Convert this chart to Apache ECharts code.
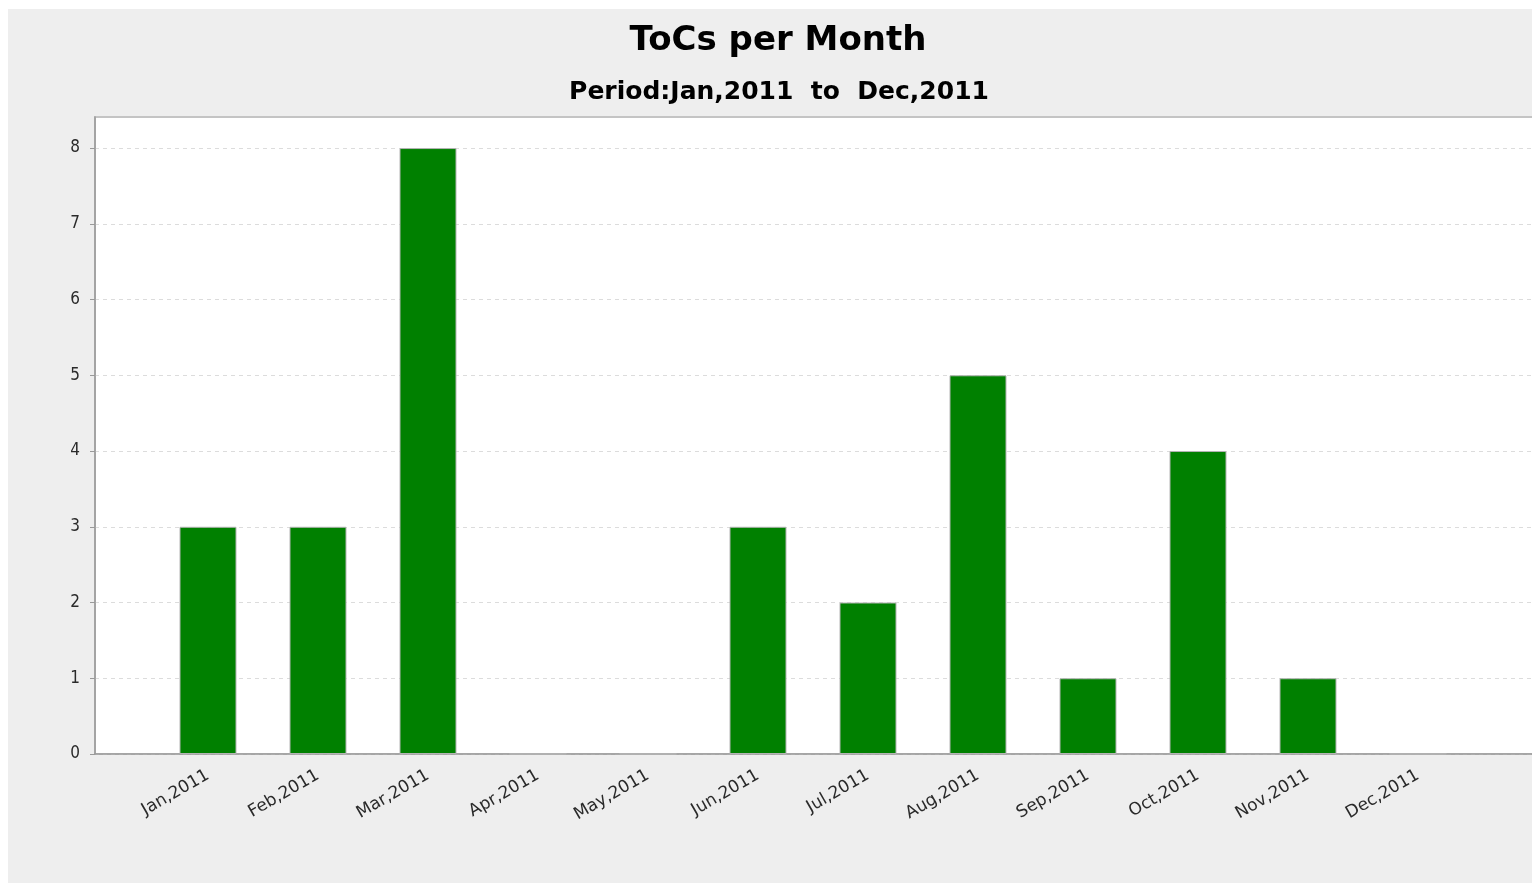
<!DOCTYPE html>
<html>
<head>
<meta charset="utf-8">
<script src="https://cdn.jsdelivr.net/npm/echarts@6/dist/echarts.min.js"></script>
<style>
  html, body { margin: 0; padding: 0; background: #ffffff; width: 1532px; height: 884px; overflow: hidden; }
  #chart { position: absolute; left: 8px; top: 9px; width: 1524px; height: 874px; }
</style>
</head>
<body>
<div id="chart"></div>
<script>
const titleText = 'ToCs per Month';
const subtitleText = 'Period:Jan,2011  to  Dec,2011';
const categories = ['Jan,2011', 'Feb,2011', 'Mar,2011', 'Apr,2011', 'May,2011', 'Jun,2011',
                    'Jul,2011', 'Aug,2011', 'Sep,2011', 'Oct,2011', 'Nov,2011', 'Dec,2011'];
const tocs = [3, 3, 8, 0, 0, 3, 2, 5, 1, 4, 1, 0];
const yTicks = [0, 1, 2, 3, 4, 5, 6, 7, 8];
const yMax = 8.41;

const condFont = '"DejaVu Sans Condensed", "DejaVu Sans", sans-serif';
const sansFont = '"DejaVu Sans", sans-serif';
const chart = echarts.init(document.getElementById('chart'), null, { renderer: 'canvas' });

const option = {
  backgroundColor: '#eeeeee',
  animation: false,
  title: [
    {
      text: titleText,
      left: 765, top: 10, textAlign: 'center',
      textStyle: { fontFamily: sansFont, fontWeight: 'bold', fontSize: 34, color: '#000' }
    },
    {
      text: subtitleText,
      left: 766, top: 66, textAlign: 'center',
      textStyle: { fontFamily: sansFont, fontWeight: 'bold', fontSize: 25, color: '#000' }
    }
  ],
  grid: [
    { left: 87, width: 1470, top: 108, bottom: 129, show: true, backgroundColor: '#ffffff',
      borderColor: '#c4c4c4', borderWidth: 2, outerBoundsMode: 'none', containLabel: false },
    { left: 145, right: 59, top: 108, bottom: 129, show: false, outerBoundsMode: 'none', containLabel: false }
  ],
  xAxis: [
    {
      gridIndex: 0, type: 'value', min: 0, max: 1,
      axisLine: { show: true, lineStyle: { color: '#9a9a9a', width: 1.5 } },
      axisTick: { show: false }, axisLabel: { show: false }, splitLine: { show: false }
    },
    {
      gridIndex: 1, type: 'category', data: categories, boundaryGap: true,
      axisLine: { show: false }, axisTick: { show: false }, splitLine: { show: false },
      axisLabel: {
        rotate: 30, margin: 20, interval: 0,
        fontFamily: sansFont, fontSize: 17, color: '#2a2a2a'
      }
    }
  ],
  yAxis: [
    {
      gridIndex: 0, type: 'value', min: 0, max: yMax, interval: 1,
      axisLine: { show: true, lineStyle: { color: '#9a9a9a', width: 1.5 } },
      axisTick: { show: true, inside: false, length: 5, lineStyle: { color: '#9a9a9a' }, customValues: yTicks },
      axisLabel: { margin: 15, fontFamily: condFont, fontSize: 17, color: '#2a2a2a', customValues: yTicks },
      splitLine: { show: true, lineStyle: { color: '#dcdcdc', type: [4, 4], width: 1 } }
    },
    {
      gridIndex: 1, type: 'value', min: 0, max: yMax, interval: 1, show: false,
      splitLine: { show: false }
    }
  ],
  series: [
    {
      type: 'bar', xAxisIndex: 1, yAxisIndex: 1, data: tocs,
      barWidth: 57,
      itemStyle: { color: '#008000', borderColor: '#b4b4b4', borderWidth: 1 }
    }
  ]
};
chart.setOption(option);
</script>
</body>
</html>
